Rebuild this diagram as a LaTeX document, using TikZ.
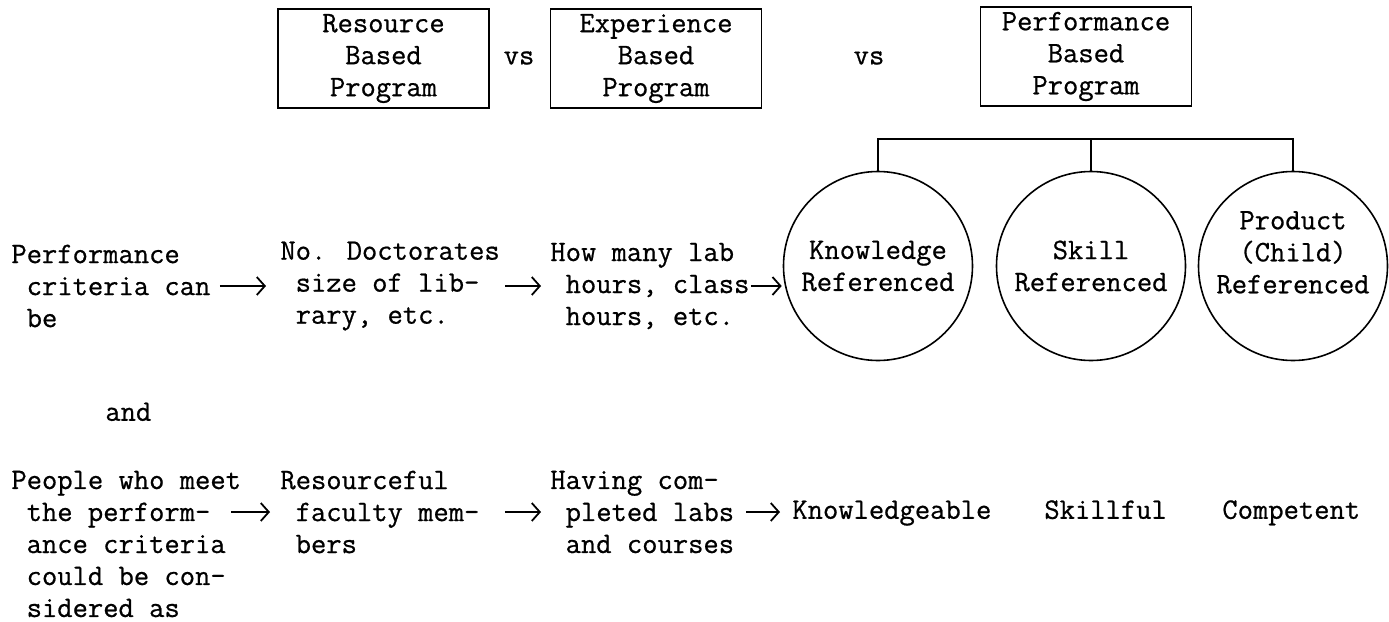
\documentclass[tikz,border=0pt]{standalone}
\usepackage{fontspec}
\newfontfamily\tw[FakeBold=0.7]{Latin Modern Mono}
\usetikzlibrary{arrows.meta}
\newcommand\ind{\hphantom{x}}
\begin{document}
\begin{tikzpicture}[x=0.5pt,y=-0.5pt,
  every node/.style={inner sep=0pt, font=\tw\fontsize{14.86}{16}\selectfont},
  txt/.style={anchor=west, align=left},
  one/.style={anchor=west, text height=9.1pt, text depth=3.3pt},
  prog/.style={draw, line width=0.9pt, minimum width=105.5pt, minimum height=49.5pt, align=center},
  refc/.style={draw, circle, line width=0.8pt, minimum size=94.5pt, align=center},
  arr/.style={line width=0.9pt, -{Straight Barb[length=4pt,width=9pt,line width=0.9pt]}},
  tree/.style={line width=0.9pt}]
\path[use as bounding box] (0,0) rectangle (1389,622);

% top boxes
\node[prog] (rb) at (383.5,58.5) {Resource\\Based\\Program};
\node (vs1) at (519,58) {vs};
\node[prog] (eb) at (656,58.5) {Experience\\Based\\Program};
\node (vs2) at (869,58) {vs};
\node[prog] (pb) at (1086,56.5) {Performance\\Based\\Program};

% circles
\node[refc] (kc) at (878,266) {Knowledge\\Referenced};
\node[refc] (sc) at (1091,266) {Skill\\Referenced};
\node[refc] (pc) at (1293,266) {Product\\(Child)\\Referenced\\[-7pt]\strut};

% tree
\coordinate (bar) at (1090,139);
\draw[tree] (kc.north) -- (kc.north |- bar) -- (pc.north |- bar) -- (pc.north);
\draw[tree] (sc.north) -- (sc.north |- bar);

% row 1
\node[txt] (pa) at (11,286) {Performance\\\ind criteria can\\\ind be};
\node[txt] (pb1) at (280,286) {No. Doctorates\\\ind size of lib-\\\ind rary, etc.};
\node[txt] (pc1) at (550,286) {How many lab\\\ind hours, class\\\ind hours, etc.};
\draw[arr, shorten <=4.5pt, shorten >=7pt] (pa.east) -- (pb1.west);
\draw[arr, shorten <=2.5pt, shorten >=4.5pt] (pb1.east) -- (pc1.west);
\draw[arr, shorten <=0.5pt, shorten >=0.5pt] (pc1.east) -- (pc1.east -| kc.west);

\node[one] (and) at (105,415) {and};

% row 2
\node[txt] (qa) at (11,544) {People who meet\\\ind the perform-\\\ind ance criteria\\\ind could be con-\\\ind sidered as};
\node[txt] (qb) at (280,512) {Resourceful\\\ind faculty mem-\\\ind bers};
\node[txt] (qc) at (550,512) {Having com-\\\ind pleted labs\\\ind and courses};
\node[one] (kn) at (792,513) {Knowledgeable};
\node[one] (sk) at (1044,513) {Skillful};
\node[one] (co) at (1222,513) {Competent};
\draw[arr, shorten <=-5pt, shorten >=5pt] (qa.east |- qb.west) -- (qb.west);
\draw[arr, shorten <=12.5pt, shorten >=4.5pt] (qb.east) -- (qc.west);
\draw[arr, shorten <=6pt, shorten >=6pt] (qc.east) -- (qc.east -| kn.west);
\end{tikzpicture}
\end{document}
